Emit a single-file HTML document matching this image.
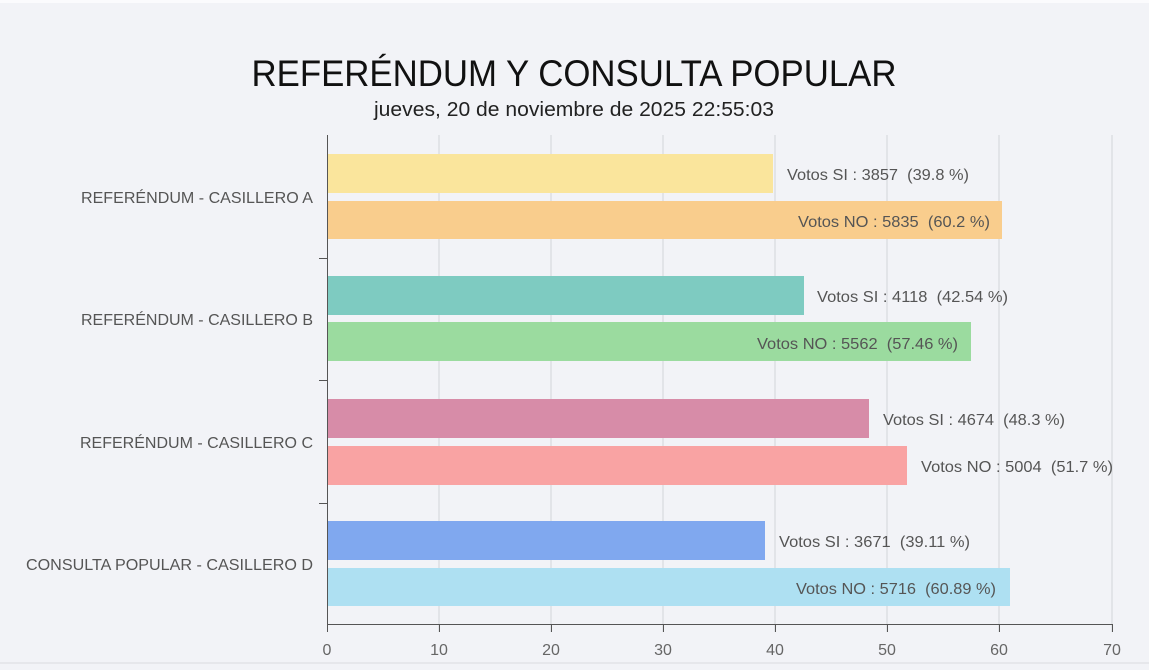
<!DOCTYPE html>
<html><head><meta charset="utf-8"><style>
html,body{margin:0;padding:0;background:#f2f3f7;}
svg{display:block;font-family:"Liberation Sans",sans-serif;}
</style></head><body>
<svg width="1149" height="670" viewBox="0 0 1149 670" xmlns="http://www.w3.org/2000/svg">
<rect width="1149" height="670" fill="#f2f3f7"/>
<rect width="1149" height="3" fill="#fbfbfd"/>
<rect x="0" y="662" width="1149" height="2" fill="#e6e7eb"/>
<text x="574" y="86" text-anchor="middle" font-size="37" fill="#111" font-weight="300" textLength="645" lengthAdjust="spacingAndGlyphs">REFERÉNDUM Y CONSULTA POPULAR</text>
<text x="574" y="116" text-anchor="middle" font-size="20" fill="#222" textLength="400" lengthAdjust="spacingAndGlyphs">jueves, 20 de noviembre de 2025 22:55:03</text>
<g stroke="#d3d4d8" stroke-width="1">
<line x1="439" y1="135" x2="439" y2="632"/><line x1="551" y1="135" x2="551" y2="632"/>
<line x1="663" y1="135" x2="663" y2="632"/><line x1="775" y1="135" x2="775" y2="632"/>
<line x1="887" y1="135" x2="887" y2="632"/><line x1="999" y1="135" x2="999" y2="632"/>
<line x1="1112" y1="135" x2="1112" y2="632"/>
</g>
<g>
<rect x="327" y="154" width="446" height="39" fill="#fae59c"/>
<rect x="327" y="201" width="675" height="38" fill="#f9cd8d"/>
<rect x="327" y="276" width="477" height="39" fill="#7ecbc1"/>
<rect x="327" y="322" width="644" height="39" fill="#9bdb9f"/>
<rect x="327" y="399" width="542" height="39" fill="#d78ca8"/>
<rect x="327" y="446" width="580" height="39" fill="#f9a3a3"/>
<rect x="327" y="521" width="438" height="39" fill="#80a8ef"/>
<rect x="327" y="568" width="683" height="38" fill="#aee0f2"/>
</g>
<g stroke="#555" stroke-width="1">
<line x1="327.5" y1="135" x2="327.5" y2="624"/>
<line x1="327" y1="624.5" x2="1112" y2="624.5"/>
<line x1="319" y1="258.5" x2="327" y2="258.5"/><line x1="319" y1="380.5" x2="327" y2="380.5"/>
<line x1="319" y1="503.5" x2="327" y2="503.5"/>
<line x1="327.5" y1="624" x2="327.5" y2="632"/><line x1="439.5" y1="624" x2="439.5" y2="632"/>
<line x1="551.5" y1="624" x2="551.5" y2="632"/><line x1="663.5" y1="624" x2="663.5" y2="632"/>
<line x1="775.5" y1="624" x2="775.5" y2="632"/><line x1="887.5" y1="624" x2="887.5" y2="632"/>
<line x1="999.5" y1="624" x2="999.5" y2="632"/><line x1="1112.5" y1="624" x2="1112.5" y2="632"/>
</g>
<g font-size="16" fill="#666" text-anchor="middle">
<text x="327" y="655">0</text><text x="439" y="655">10</text><text x="551" y="655">20</text>
<text x="663" y="655">30</text><text x="775" y="655">40</text><text x="887" y="655">50</text>
<text x="999" y="655">60</text><text x="1112" y="655">70</text>
</g>
<g font-size="16" fill="#555">
<text x="81" y="203" textLength="232" lengthAdjust="spacingAndGlyphs">REFERÉNDUM - CASILLERO A</text>
<text x="81" y="325" textLength="232" lengthAdjust="spacingAndGlyphs">REFERÉNDUM - CASILLERO B</text>
<text x="80" y="448" textLength="233" lengthAdjust="spacingAndGlyphs">REFERÉNDUM - CASILLERO C</text>
<text x="26" y="570" textLength="287" lengthAdjust="spacingAndGlyphs">CONSULTA POPULAR - CASILLERO D</text>
</g>
<g font-size="16" fill="#555">
<text x="787" y="180" xml:space="preserve" textLength="182" lengthAdjust="spacingAndGlyphs">Votos SI : 3857  (39.8 %)</text>
<text x="798" y="227" xml:space="preserve" textLength="192" lengthAdjust="spacingAndGlyphs">Votos NO : 5835  (60.2 %)</text>
<text x="817" y="302" xml:space="preserve" textLength="191" lengthAdjust="spacingAndGlyphs">Votos SI : 4118  (42.54 %)</text>
<text x="757" y="349" xml:space="preserve" textLength="201" lengthAdjust="spacingAndGlyphs">Votos NO : 5562  (57.46 %)</text>
<text x="883" y="425" xml:space="preserve" textLength="182" lengthAdjust="spacingAndGlyphs">Votos SI : 4674  (48.3 %)</text>
<text x="921" y="472" xml:space="preserve" textLength="192" lengthAdjust="spacingAndGlyphs">Votos NO : 5004  (51.7 %)</text>
<text x="779" y="547" xml:space="preserve" textLength="191" lengthAdjust="spacingAndGlyphs">Votos SI : 3671  (39.11 %)</text>
<text x="796" y="594" xml:space="preserve" textLength="200" lengthAdjust="spacingAndGlyphs">Votos NO : 5716  (60.89 %)</text>
</g>
</svg>
</body></html>
